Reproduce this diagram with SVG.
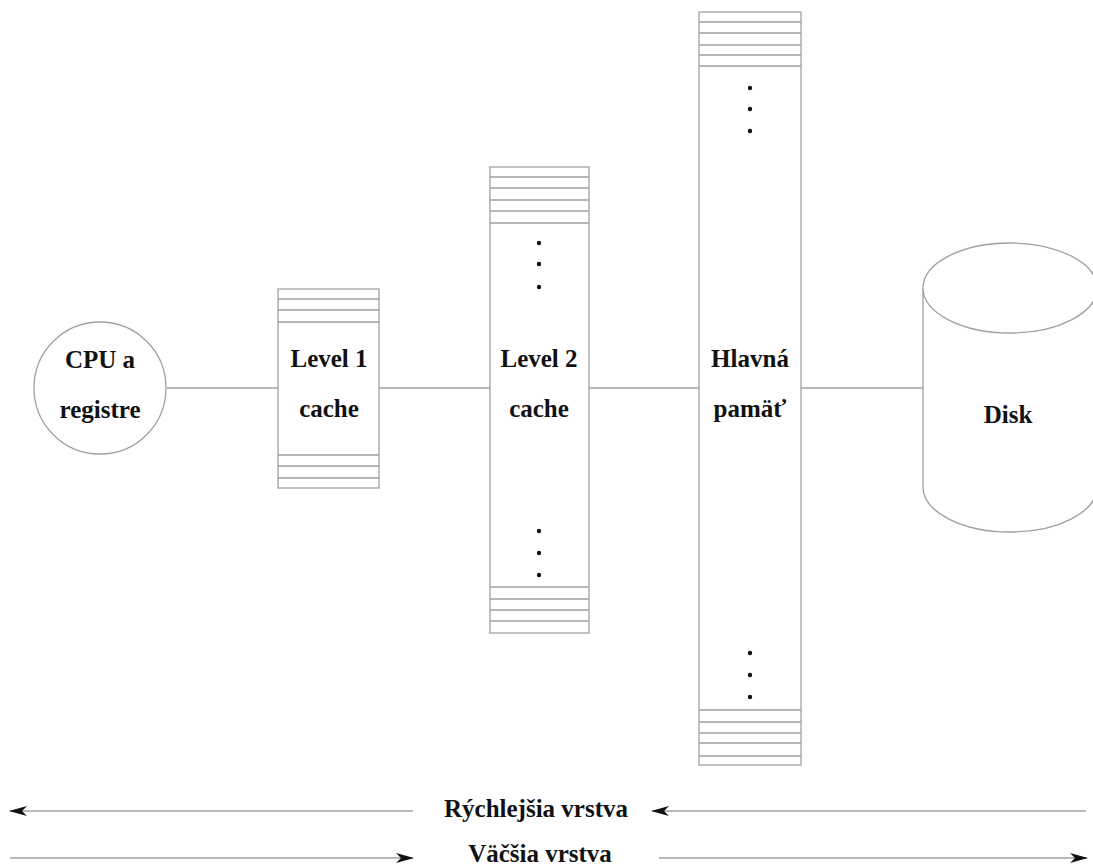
<svg xmlns="http://www.w3.org/2000/svg" width="1093" height="865" viewBox="0 0 1093 865">
<style>
.s{fill:none;stroke:#a0a0a0;stroke-width:1.3}
.b{fill:#fff;stroke:#a0a0a0;stroke-width:1.3}
.t{font-family:"Liberation Serif",serif;font-weight:bold;font-size:25px;fill:#111;text-anchor:middle}
.d{fill:#111}
</style>
<defs>
<marker id="ah" viewBox="0 0 18 12" refX="17" refY="6" markerWidth="18" markerHeight="12" markerUnits="userSpaceOnUse" orient="auto">
<path d="M0,1 L18,6 L0,11 L5,6 Z" fill="#111"/>
</marker>
</defs>
<rect width="1093" height="865" fill="#fff"/>
<g id="connectors">
<line class="s" x1="167" y1="388" x2="278" y2="388"/>
<line class="s" x1="379" y1="388" x2="490" y2="388"/>
<line class="s" x1="589" y1="388" x2="699" y2="388"/>
<line class="s" x1="801" y1="388" x2="923" y2="388"/>
<line class="s" x1="413" y1="811" x2="10" y2="811" marker-end="url(#ah)"/>
<line class="s" x1="1086" y1="811" x2="652" y2="811" marker-end="url(#ah)"/>
<line class="s" x1="10" y1="858" x2="413" y2="858" marker-end="url(#ah)"/>
<line class="s" x1="659" y1="858" x2="1087" y2="858" marker-end="url(#ah)"/>
</g>
<g id="cpu">
<circle class="b" cx="100" cy="388" r="66"/>
<text class="t" x="100" y="368">CPU a</text>
<text class="t" x="100" y="418">registre</text>
</g>
<g id="l1">
<rect class="b" x="278" y="289" width="101" height="199"/>
<path class="s" d="M278,299H379M278,310H379M278,322H379M278,455H379M278,466H379M278,478H379"/>
<text class="t" x="329" y="367">Level 1</text>
<text class="t" x="329" y="417">cache</text>
</g>
<g id="l2">
<rect class="b" x="490" y="167" width="99" height="466"/>
<path class="s" d="M490,177H589M490,188H589M490,200H589M490,211H589M490,223H589M490,587H589M490,599H589M490,610H589M490,621H589"/>
<circle class="d" cx="539" cy="243" r="2.2"/><circle class="d" cx="539" cy="264" r="2.2"/><circle class="d" cx="539" cy="287" r="2.2"/>
<circle class="d" cx="539" cy="531" r="2.2"/><circle class="d" cx="539" cy="553" r="2.2"/><circle class="d" cx="539" cy="575" r="2.2"/>
<text class="t" x="539" y="367">Level 2</text>
<text class="t" x="539" y="417">cache</text>
</g>
<g id="mem">
<rect class="b" x="699" y="12" width="102" height="753"/>
<path class="s" d="M699,22H801M699,33H801M699,45H801M699,55H801M699,66H801M699,710H801M699,722H801M699,733H801M699,743H801M699,756H801"/>
<circle class="d" cx="750" cy="88" r="2.2"/><circle class="d" cx="750" cy="109" r="2.2"/><circle class="d" cx="750" cy="131" r="2.2"/>
<circle class="d" cx="750" cy="653" r="2.2"/><circle class="d" cx="750" cy="675" r="2.2"/><circle class="d" cx="750" cy="697" r="2.2"/>
<text class="t" x="750" y="367">Hlavná</text>
<text class="t" x="750" y="417">pamäť</text>
</g>
<g id="disk">
<path class="b" d="M923,288 V487 A87,45 0 0 0 1097,487 V288"/>
<ellipse class="b" cx="1010" cy="288" rx="87" ry="45"/>
<text class="t" x="1008" y="423">Disk</text>
</g>
<g id="labels">
<text class="t" x="536" y="817">Rýchlejšia vrstva</text>
<text class="t" x="540" y="862">Väčšia vrstva</text>
</g>
</svg>
